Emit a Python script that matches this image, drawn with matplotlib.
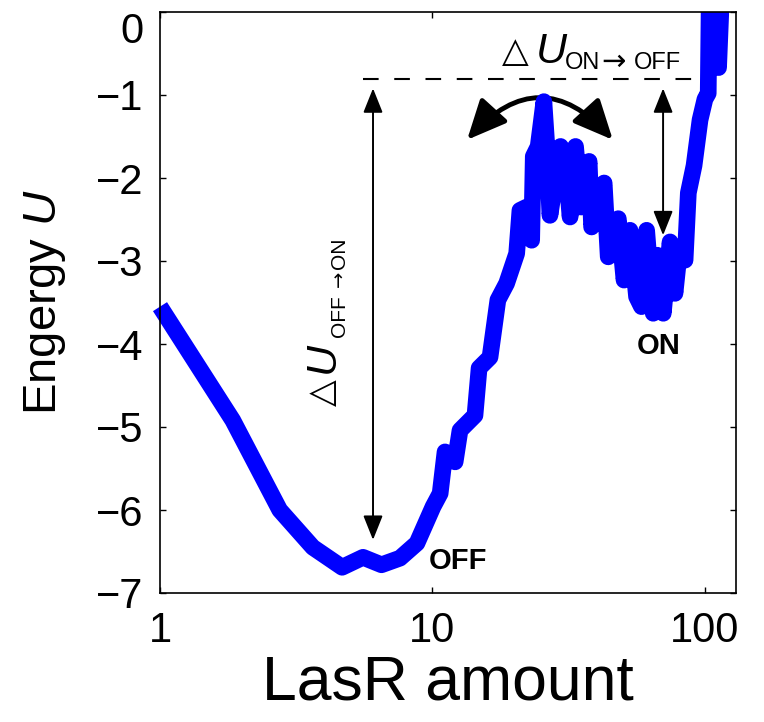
import matplotlib
matplotlib.use("Agg")
import matplotlib.pyplot as plt
from matplotlib.patches import FancyArrowPatch, Rectangle
from matplotlib.transforms import ScaledTranslation

plt.rcParams["font.family"] = ["Liberation Sans", "DejaVu Sans"]
plt.rcParams["mathtext.fontset"] = "custom"
plt.rcParams["mathtext.rm"] = "Liberation Sans"
plt.rcParams["mathtext.it"] = "Liberation Sans:italic"

# energy landscape along the LasR amount axis
lasr_amount = [1.00, 1.85, 2.75, 3.64, 4.66, 5.56, 6.50, 7.60, 8.77, 10.05,
               10.67, 11.12, 12.11, 12.62, 14.32, 14.83, 16.26, 17.38, 18.71, 20.37,
               20.94, 22.18, 23.12, 23.44, 24.43, 25.64, 26.24, 26.98, 29.51, 30.55,
               31.99, 33.50, 35.08, 37.58, 38.37, 42.66, 44.16, 48.08, 50.47, 53.09,
               56.10, 58.48, 61.09, 64.57, 66.83, 70.31, 74.47, 77.62, 80.91, 84.53,
               86.90, 91.20, 95.94, 100.0, 102.8, 103.8, 112.2, 115.3]
energy = [-3.55, -4.92, -6.00, -6.45, -6.69, -6.57, -6.66, -6.58, -6.40, -5.96,
          -5.80, -5.30, -5.42, -5.04, -4.86, -4.29, -4.16, -3.47, -3.27, -2.91,
          -2.39, -2.35, -2.75, -1.74, -1.62, -1.08, -1.58, -2.45, -1.62, -1.70,
          -2.47, -1.62, -2.35, -1.80, -2.59, -2.06, -2.95, -2.49, -3.23, -2.63,
          -3.43, -3.55, -2.63, -3.63, -2.93, -3.63, -2.77, -3.39, -2.83, -2.99,
          -2.18, -1.85, -1.30, -1.05, -0.98, 0.30, -0.67, 0.30]

barrier_level = -0.81          # dashed reference level
barrier_span = (5.56, 95.9)    # extent of the dashed line
off_arrow = (6.05, -0.92, -6.36)   # x, top, bottom of the OFF->ON arrow
on_arrow = (70.2, -0.92, -2.69)    # x, top, bottom of the ON->OFF arrow
swing_ends = ((13.4, -1.54), (45.9, -1.54))

x_limits = (1, 130)
y_limits = (-7, 0)
x_ticks = [1, 10, 100]
x_ticklabels = ["1", "10", "100"]
y_ticks = [0, -1, -2, -3, -4, -5, -6, -7]

fig = plt.figure(figsize=(7.64, 7.22), dpi=100)
ax = fig.add_axes([160 / 764, 1 - 593 / 722, 576 / 764, 581 / 722])

line, = ax.plot(lasr_amount, energy, color="#0000ff", lw=12,
                solid_joinstyle="round", solid_capstyle="butt")
line.set_clip_path(Rectangle((-0.05, -0.05), 1.1, 1.05, transform=ax.transAxes))

ax.set_xscale("log")
ax.set_xlim(*x_limits)
ax.set_ylim(*y_limits)
ax.set_xticks(x_ticks)
ax.set_xticklabels(x_ticklabels)
ax.minorticks_off()
ax.set_yticks(y_ticks)
ax.tick_params(direction="in", length=4, width=1.0, top=True, right=True,
               labelsize=30)
ax.tick_params(axis="x", pad=13)
ax.tick_params(axis="y", pad=12)
for s in ax.spines.values():
    s.set_linewidth(1.2)

# keep the top tick label inside the figure
fig.canvas.draw()
top_label = ax.get_yticklabels()[0]
top_label.set_transform(top_label.get_transform()
                        + ScaledTranslation(0, -11.5 / 72, fig.dpi_scale_trans))

ax.set_xlabel("LasR amount", fontsize=45, labelpad=2)
ax.set_ylabel("Engergy $U$", fontsize=34, labelpad=20)

# dashed barrier level
ax.plot(barrier_span, [barrier_level, barrier_level], color="black", lw=1.5,
        dashes=(7.5, 7.5))

# vertical double arrows
for xa, top, bot in (off_arrow, on_arrow):
    ax.add_patch(FancyArrowPatch((xa, top), (xa, bot),
                                 arrowstyle="<|-|>,head_length=1.5,head_width=0.6",
                                 mutation_scale=10, lw=1.4, color="black",
                                 shrinkA=0, shrinkB=0))

# curved double arrow over the barrier
ax.add_patch(FancyArrowPatch(swing_ends[0], swing_ends[1],
                             connectionstyle="arc3,rad=-0.55",
                             arrowstyle="<|-|>,head_length=1.2,head_width=0.55",
                             mutation_scale=20, lw=3.5, color="black",
                             shrinkA=0, shrinkB=0))

# state labels
ax.text(12.4, -6.61, "OFF", fontsize=21, fontweight="bold", ha="center", va="center")
ax.text(67.8, -4.02, "ON", fontsize=21, fontweight="bold", ha="center", va="center")

# barrier labels: triangle, italic U, then the subscript pieces
def delta_label(anchor, rot, pieces):
    kw = dict(xy=anchor, xycoords="data", textcoords="offset pixels",
              rotation=rot, rotation_mode="anchor", ha="left", va="baseline")
    for text, offset, size, extra in pieces:
        ax.annotate(text, xytext=offset, fontsize=size, **extra, **kw)

dejavu = {"family": ["DejaVu Sans"]}
plain = {}
italic = {"style": "italic"}

delta_label((18.0, -0.62), 0, [
    ("\u25b3", (0, 1), 25, dejavu),
    ("U", (34, 0), 31, italic),
    ("ON", (63, -6), 17, plain),
    ("\u2192", (99, -6), 21, dejavu),
    ("OFF", (132, -6), 17, plain),
])
delta_label((4.35, -4.75), 90, [
    ("\u25b3", (-1, 0), 25, dejavu),
    ("U", (0, 33), 31, italic),
    ("OFF", (11, 69), 15, plain),
    ("\u2192", (11, 119), 14, dejavu),
    ("ON", (11, 137), 15, plain),
])

fig.savefig("out.png", dpi=100)
